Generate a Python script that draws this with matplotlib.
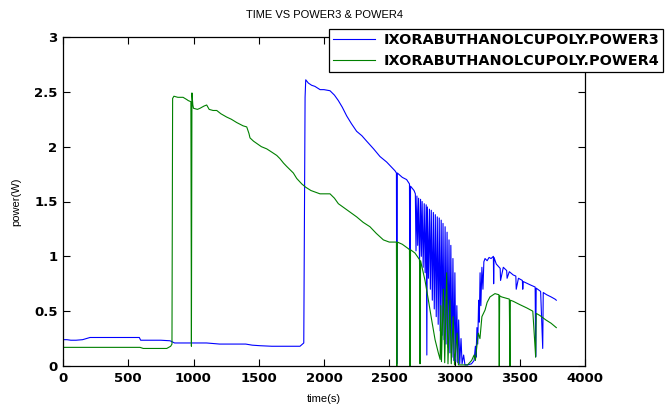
import matplotlib.pyplot as plt

# POWER3 (blue)
t3 = [0, 30, 60, 100, 150, 207, 250, 300, 350, 400, 450, 500, 550, 585, 595, 650, 700, 750,
      820, 855, 900, 1000, 1100, 1200, 1305, 1350, 1400, 1450, 1510, 1600, 1700, 1816, 1845,
      1855, 1860, 1880, 1905, 1930, 1970, 2000, 2046, 2080, 2110, 2140, 2174, 2210, 2250,
      2290, 2327, 2380, 2429, 2480, 2520, 2544, 2555, 2558, 2562, 2600, 2633, 2655, 2659,
      2663, 2690,
      2700, 2705, 2712, 2718, 2725, 2732, 2740, 2746, 2752, 2760, 2768, 2775, 2783, 2788,
      2792, 2800, 2808, 2815, 2822, 2830, 2838, 2845, 2853, 2860, 2868, 2875, 2883, 2890,
      2898, 2905, 2912, 2920, 2928, 2935, 2943, 2950, 2958, 2965, 2972, 2980, 2988, 2995,
      3003, 3010, 3018, 3025, 3032, 3040, 3050, 3058, 3070, 3080, 3100, 3130, 3150, 3160,
      3165, 3172, 3178, 3185, 3190, 3196, 3202, 3210, 3218, 3225, 3234, 3250, 3265, 3280,
      3298, 3300, 3303, 3320, 3350, 3353, 3374, 3400, 3403, 3420, 3450, 3470, 3473, 3490,
      3520, 3523, 3527, 3580, 3618, 3622, 3626, 3660, 3676, 3680, 3706, 3740, 3770, 3780]
p3 = [0.24, 0.24, 0.235, 0.235, 0.24, 0.26, 0.26, 0.26, 0.26, 0.26, 0.26, 0.26, 0.26, 0.26,
      0.235, 0.235, 0.235, 0.235, 0.23, 0.21, 0.21, 0.21, 0.21, 0.20, 0.20, 0.20, 0.20,
      0.19, 0.185, 0.18, 0.18, 0.18, 0.21, 2.45, 2.61, 2.58, 2.56, 2.55, 2.52, 2.52, 2.51,
      2.47, 2.42, 2.36, 2.28, 2.21, 2.14, 2.10, 2.05, 1.98, 1.91, 1.86, 1.81, 1.78, 1.76,
      0.02, 1.76, 1.72, 1.70, 1.66, 0.07, 1.64, 1.60,
      1.57, 1.05, 1.55, 1.10, 1.53, 0.95, 1.52, 1.00, 1.50, 0.90, 1.48, 0.85, 1.47, 0.10,
      1.45, 0.80, 1.43, 0.70, 1.42, 0.60, 1.40, 0.52, 1.38, 0.45, 1.36, 0.38, 1.35, 0.32,
      1.33, 0.28, 1.30, 0.24, 1.27, 0.20, 1.22, 0.17, 1.15, 0.12, 1.10, 0.08, 0.98, 0.05,
      0.85, 0.04, 0.55, 0.03, 0.42, 0.02, 0.25, 0.02, 0.10, 0.01, 0.01, 0.02, 0.05, 0.18,
      0.08, 0.35, 0.20, 0.60, 0.40, 0.85, 0.55, 0.90, 0.70, 0.95, 0.98, 0.96, 0.99, 0.98,
      1.00, 0.75, 0.99, 0.93, 0.89, 0.78, 0.90, 0.87, 0.80, 0.86, 0.83, 0.82, 0.70, 0.80,
      0.78, 0.70, 0.77, 0.74, 0.72, 0.085, 0.71, 0.68, 0.16, 0.67, 0.65, 0.63, 0.61, 0.60]

# POWER4 (green)
t4 = [0, 100, 200, 300, 400, 500, 590, 615, 650, 700, 750, 795, 825, 835, 840, 850, 880,
      920, 948, 960, 980, 984, 988, 995, 1000, 1030, 1050, 1080, 1101, 1120, 1150, 1178,
      1210, 1254, 1290, 1331, 1380, 1408, 1425, 1433, 1460, 1484, 1520, 1561, 1600, 1638,
      1663, 1690, 1714, 1765, 1791, 1830, 1860, 1900, 1969, 2046, 2080, 2110, 2180, 2250,
      2300, 2352, 2400, 2455, 2500, 2555, 2558, 2562, 2600, 2646, 2655, 2659, 2663, 2697,
      2732, 2736, 2740, 2774, 2800, 2825, 2851, 2876, 2890, 2895, 2900, 2915, 2925, 2940,
      2950, 2965, 2975, 2990, 3000, 3020, 3030, 3060, 3100, 3131, 3150, 3160, 3182, 3195,
      3210, 3234, 3250, 3272, 3310, 3340, 3343, 3346, 3361, 3420, 3425, 3428, 3450, 3500,
      3553, 3600, 3622, 3626, 3655, 3700, 3740, 3770, 3780]
p4 = [0.17, 0.17, 0.17, 0.17, 0.17, 0.17, 0.17, 0.16, 0.16, 0.16, 0.16, 0.16, 0.18, 0.20,
      2.44, 2.46, 2.45, 2.45, 2.43, 2.42, 2.41, 0.18, 2.49, 2.38, 2.35, 2.34, 2.35, 2.37,
      2.38, 2.34, 2.33, 2.33, 2.30, 2.27, 2.25, 2.22, 2.19, 2.18, 2.12, 2.08, 2.05, 2.03,
      2.00, 1.98, 1.95, 1.92, 1.89, 1.85, 1.82, 1.76, 1.71, 1.66, 1.63, 1.60, 1.57, 1.57,
      1.53, 1.48, 1.42, 1.36, 1.31, 1.27, 1.21, 1.15, 1.13, 1.13, 0.0, 1.13, 1.11, 1.07,
      1.06, 0.0, 1.06, 1.03, 0.97, 0.02, 0.96, 0.78, 0.60, 0.42, 0.24, 0.12, 0.06, 0.55,
      0.04, 0.70, 0.03, 0.85, 0.02, 0.60, 0.02, 0.45, 0.01, 0.30, 0.01, 0.01, 0.01, 0.05,
      0.10, 0.05, 0.30, 0.25, 0.45, 0.51, 0.58, 0.63, 0.66, 0.65, 0.0, 0.64, 0.63, 0.61,
      0.0, 0.60, 0.59, 0.56, 0.53, 0.50, 0.08, 0.48, 0.46, 0.42, 0.39, 0.36, 0.35]

labels = ["IXORABUTHANOLCUPOLY.POWER3", "IXORABUTHANOLCUPOLY.POWER4"]
xticks = [0, 500, 1000, 1500, 2000, 2500, 3000, 3500, 4000]
yticks = [0, 0.5, 1, 1.5, 2, 2.5, 3]
yticklabels = ["0", "0.5", "1", "1.5", "2", "2.5", "3"]

plt.rcParams["font.family"] = ["Liberation Sans", "DejaVu Sans"]
bold = {"family": "DejaVu Sans", "weight": "bold", "size": 9.5}

fig = plt.figure(figsize=(6.66, 4.09), dpi=100)
ax = fig.add_axes([63 / 666, 43 / 409, 522 / 666, 329 / 409])

ax.plot(t3, p3, color=(0, 0, 1), lw=0.8, label=labels[0])
ax.plot(t4, p4, color=(0, 0.5, 0), lw=0.8, label=labels[1])

ax.set_xlim(0, 4000)
ax.set_ylim(0, 3)
ax.set_xticks(xticks)
ax.set_xticklabels([str(v) for v in xticks], fontdict=bold)
ax.set_yticks(yticks)
ax.set_yticklabels(yticklabels, fontdict=bold)
ax.tick_params(direction="in", length=5, width=0.8, top=True, right=True, pad=4)
for s in ax.spines.values():
    s.set_linewidth(0.9)

ax.set_title("TIME VS POWER3 & POWER4", fontsize=8, pad=14)
ax.set_xlabel("time(s)", fontsize=8, labelpad=7)
ax.set_ylabel("power(W)", fontsize=8, labelpad=9)

leg = fig.legend(loc="upper left", bbox_to_anchor=(329 / 666, 1 - 29 / 409),
                 prop={"family": "DejaVu Sans", "weight": "bold", "size": 10.4},
                 fancybox=False, framealpha=1, edgecolor="black", handlelength=2.9,
                 handletextpad=0.55, borderpad=0.3, labelspacing=0.45, borderaxespad=0)
leg.get_frame().set_linewidth(0.9)

fig.savefig("out.png", dpi=100)
